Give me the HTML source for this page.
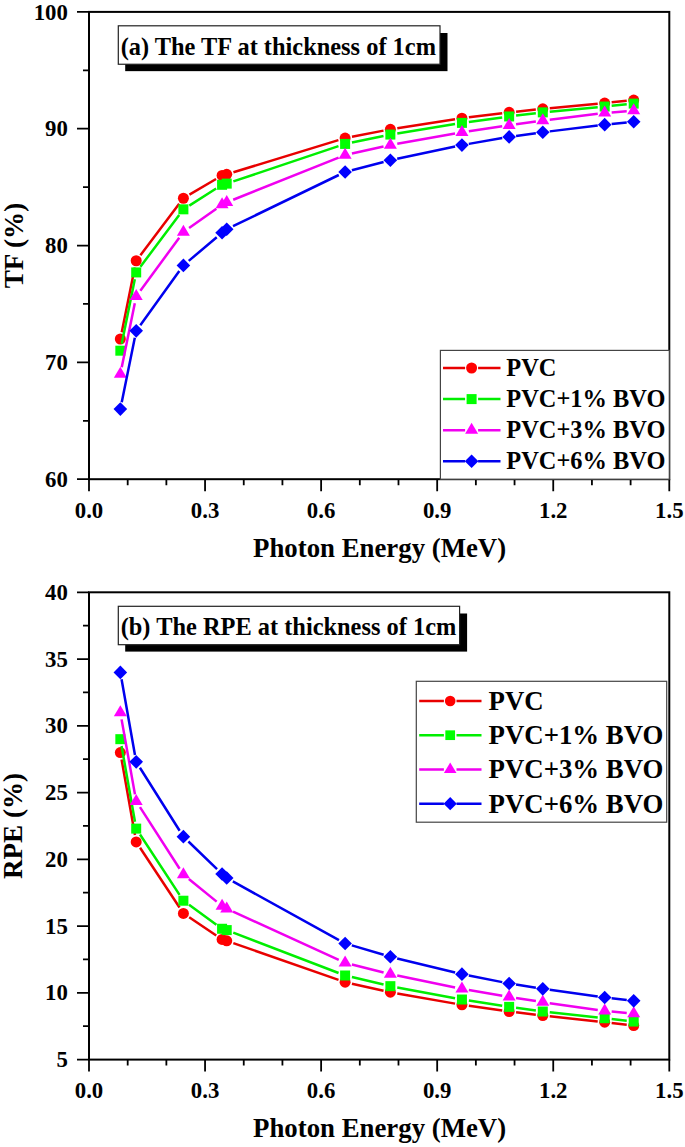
<!DOCTYPE html>
<html><head><meta charset="utf-8"><style>
html,body{margin:0;padding:0;background:#fff;}
svg{display:block;}
</style></head><body>
<svg width="685" height="1147" viewBox="0 0 685 1147">
<rect width="685" height="1147" fill="#fff"/>
<path d="M121.73,332.15L134.81,267.60M140.42,255.15L179.18,203.82M189.43,194.68L216.05,179.01M233.42,172.24L338.41,140.12M351.98,136.74L383.50,130.64M397.29,128.24L455.02,119.28M468.89,117.35L502.19,113.23M516.10,111.64L535.83,109.59M549.76,108.21L597.72,103.68M611.66,102.32L626.74,100.80" stroke="#e80000" stroke-width="2.5" fill="none"/>
<circle cx="120.34" cy="339.01" r="5.50" fill="#ff0000"/>
<circle cx="136.20" cy="260.74" r="5.50" fill="#ff0000"/>
<circle cx="183.40" cy="198.24" r="5.50" fill="#ff0000"/>
<circle cx="222.08" cy="175.45" r="5.50" fill="#ff0000"/>
<circle cx="226.72" cy="174.29" r="5.50" fill="#ff0000"/>
<circle cx="345.11" cy="138.07" r="5.50" fill="#ff0000"/>
<circle cx="390.37" cy="129.31" r="5.50" fill="#ff0000"/>
<circle cx="461.94" cy="118.21" r="5.50" fill="#ff0000"/>
<circle cx="509.14" cy="112.37" r="5.50" fill="#ff0000"/>
<circle cx="542.79" cy="108.86" r="5.50" fill="#ff0000"/>
<circle cx="604.69" cy="103.02" r="5.50" fill="#ff0000"/>
<circle cx="633.71" cy="100.10" r="5.50" fill="#ff0000"/>
<path d="M121.73,343.83L134.81,279.28M140.39,266.81L179.20,214.94M189.31,205.59L216.17,188.55M233.36,181.41L338.47,146.14M351.96,142.50L383.51,135.98M397.28,133.44L455.03,124.01M468.88,121.94L502.20,117.40M516.09,115.61L535.85,113.21M549.76,111.71L597.72,107.19M611.66,105.83L626.74,104.31" stroke="#00ee00" stroke-width="2.5" fill="none"/>
<rect x="115.34" y="345.69" width="10.00" height="10.00" fill="#00ff00"/>
<rect x="131.20" y="267.42" width="10.00" height="10.00" fill="#00ff00"/>
<rect x="178.40" y="204.33" width="10.00" height="10.00" fill="#00ff00"/>
<rect x="217.08" y="179.80" width="10.00" height="10.00" fill="#00ff00"/>
<rect x="221.72" y="178.63" width="10.00" height="10.00" fill="#00ff00"/>
<rect x="340.11" y="138.91" width="10.00" height="10.00" fill="#00ff00"/>
<rect x="385.37" y="129.57" width="10.00" height="10.00" fill="#00ff00"/>
<rect x="456.94" y="117.88" width="10.00" height="10.00" fill="#00ff00"/>
<rect x="504.14" y="111.46" width="10.00" height="10.00" fill="#00ff00"/>
<rect x="537.79" y="107.37" width="10.00" height="10.00" fill="#00ff00"/>
<rect x="599.69" y="101.53" width="10.00" height="10.00" fill="#00ff00"/>
<rect x="628.71" y="98.61" width="10.00" height="10.00" fill="#00ff00"/>
<path d="M121.74,367.20L134.80,303.23M140.34,290.73L179.25,237.76M189.10,228.06L216.37,208.71M233.22,199.73L338.61,157.61M351.94,153.51L383.53,146.58M397.26,143.84L455.05,133.47M468.86,131.20L502.21,126.25M516.07,124.26L535.86,121.51M549.74,119.69L597.75,113.81M611.67,112.39L626.73,111.18" stroke="#f000f0" stroke-width="2.5" fill="none"/>
<polygon points="120.34,366.72 126.84,377.72 113.84,377.72" fill="#ff00ff"/>
<polygon points="136.20,289.04 142.70,300.04 129.70,300.04" fill="#ff00ff"/>
<polygon points="183.40,224.78 189.90,235.78 176.90,235.78" fill="#ff00ff"/>
<polygon points="222.08,197.33 228.58,208.33 215.58,208.33" fill="#ff00ff"/>
<polygon points="226.72,194.99 233.22,205.99 220.22,205.99" fill="#ff00ff"/>
<polygon points="345.11,147.68 351.61,158.68 338.61,158.68" fill="#ff00ff"/>
<polygon points="390.37,137.75 396.87,148.75 383.87,148.75" fill="#ff00ff"/>
<polygon points="461.94,124.90 468.44,135.90 455.44,135.90" fill="#ff00ff"/>
<polygon points="509.14,117.89 515.64,128.89 502.64,128.89" fill="#ff00ff"/>
<polygon points="542.79,113.21 549.29,124.21 536.29,124.21" fill="#ff00ff"/>
<polygon points="604.69,105.62 611.19,116.62 598.19,116.62" fill="#ff00ff"/>
<polygon points="633.71,103.28 640.21,114.28 627.21,114.28" fill="#ff00ff"/>
<path d="M121.73,402.24L134.81,337.69M140.29,325.16L179.30,271.09M188.74,260.89L216.74,237.22M233.03,226.15L338.80,175.00M351.88,170.20L383.59,162.02M397.22,158.81L455.09,146.53M468.84,143.89L502.24,138.10M516.07,135.94L535.86,133.19M549.74,131.38L597.75,125.49M611.66,123.94L626.74,122.42" stroke="#0000ee" stroke-width="2.5" fill="none"/>
<polygon points="120.34,402.31 127.14,409.11 120.34,415.91 113.54,409.11" fill="#0000ff"/>
<polygon points="136.20,324.03 143.00,330.83 136.20,337.63 129.40,330.83" fill="#0000ff"/>
<polygon points="183.40,258.61 190.20,265.41 183.40,272.21 176.60,265.41" fill="#0000ff"/>
<polygon points="222.08,225.90 228.88,232.70 222.08,239.50 215.28,232.70" fill="#0000ff"/>
<polygon points="226.72,222.39 233.52,229.19 226.72,235.99 219.92,229.19" fill="#0000ff"/>
<polygon points="345.11,165.15 351.91,171.95 345.11,178.75 338.31,171.95" fill="#0000ff"/>
<polygon points="390.37,153.47 397.17,160.27 390.37,167.07 383.57,160.27" fill="#0000ff"/>
<polygon points="461.94,138.28 468.74,145.08 461.94,151.88 455.14,145.08" fill="#0000ff"/>
<polygon points="509.14,130.10 515.94,136.90 509.14,143.70 502.34,136.90" fill="#0000ff"/>
<polygon points="542.79,125.43 549.59,132.23 542.79,139.03 535.99,132.23" fill="#0000ff"/>
<polygon points="604.69,117.84 611.49,124.64 604.69,131.44 597.89,124.64" fill="#0000ff"/>
<polygon points="633.71,114.92 640.51,121.72 633.71,128.52 626.91,121.72" fill="#0000ff"/>
<rect x="89.0" y="11.9" width="580.30" height="467.30" fill="none" stroke="#000" stroke-width="2"/>
<text x="67.9" y="486.80" text-anchor="end" font-size="22.8" font-family="&quot;Liberation Serif&quot;, serif" font-weight="bold">60</text>
<text x="67.9" y="369.98" text-anchor="end" font-size="22.8" font-family="&quot;Liberation Serif&quot;, serif" font-weight="bold">70</text>
<text x="67.9" y="253.15" text-anchor="end" font-size="22.8" font-family="&quot;Liberation Serif&quot;, serif" font-weight="bold">80</text>
<text x="67.9" y="136.32" text-anchor="end" font-size="22.8" font-family="&quot;Liberation Serif&quot;, serif" font-weight="bold">90</text>
<text x="67.9" y="19.50" text-anchor="end" font-size="22.8" font-family="&quot;Liberation Serif&quot;, serif" font-weight="bold">100</text>
<text x="89.00" y="517.90" text-anchor="middle" font-size="22.8" font-family="&quot;Liberation Serif&quot;, serif" font-weight="bold">0.0</text>
<text x="205.06" y="517.90" text-anchor="middle" font-size="22.8" font-family="&quot;Liberation Serif&quot;, serif" font-weight="bold">0.3</text>
<text x="321.12" y="517.90" text-anchor="middle" font-size="22.8" font-family="&quot;Liberation Serif&quot;, serif" font-weight="bold">0.6</text>
<text x="437.18" y="517.90" text-anchor="middle" font-size="22.8" font-family="&quot;Liberation Serif&quot;, serif" font-weight="bold">0.9</text>
<text x="553.24" y="517.90" text-anchor="middle" font-size="22.8" font-family="&quot;Liberation Serif&quot;, serif" font-weight="bold">1.2</text>
<text x="669.30" y="517.90" text-anchor="middle" font-size="22.8" font-family="&quot;Liberation Serif&quot;, serif" font-weight="bold">1.5</text>
<path d="M77.00,479.20H89.0M83.00,420.79H89.0M77.00,362.38H89.0M83.00,303.96H89.0M77.00,245.55H89.0M83.00,187.14H89.0M77.00,128.72H89.0M83.00,70.31H89.0M77.00,11.90H89.0M89.00,479.2V491.20M127.69,479.2V485.20M166.37,479.2V485.20M205.06,479.2V491.20M243.75,479.2V485.20M282.43,479.2V485.20M321.12,479.2V491.20M359.81,479.2V485.20M398.49,479.2V485.20M437.18,479.2V491.20M475.87,479.2V485.20M514.55,479.2V485.20M553.24,479.2V491.20M591.93,479.2V485.20M630.61,479.2V485.20M669.30,479.2V491.20" stroke="#000" stroke-width="1.8" fill="none"/>
<text x="253.1" y="556.70" font-size="26.8" font-family="&quot;Liberation Serif&quot;, serif" font-weight="bold">Photon Energy (MeV)</text>
<text transform="translate(23.4,245.55) rotate(-90)" x="0" y="0" text-anchor="middle" font-size="27.1" font-family="&quot;Liberation Serif&quot;, serif" font-weight="bold">TF (%)</text>
<rect x="125.20" y="33.00" width="322.30" height="38.15" fill="#000"/>
<rect x="118.3" y="25.8" width="321.7" height="38.45" fill="#fff" stroke="#222" stroke-width="1.2"/>
<text x="120.70" y="54.70" font-size="24.4" font-family="&quot;Liberation Serif&quot;, serif" font-weight="bold">(a) The TF at thickness of 1cm</text>
<rect x="440.4" y="350.4" width="228.9" height="128.8" fill="#fff" stroke="#444" stroke-width="1.2"/>
<path d="M443.0,368.0H465.10M478.10,368.0H500.5" stroke="#e80000" stroke-width="2.5"/>
<circle cx="471.60" cy="368.00" r="5.50" fill="#ff0000"/>
<text x="506.3" y="375.90" font-size="24.4" font-family="&quot;Liberation Serif&quot;, serif" font-weight="bold">PVC</text>
<path d="M443.0,399.1H465.10M478.10,399.1H500.5" stroke="#00ee00" stroke-width="2.5"/>
<rect x="466.60" y="394.10" width="10.00" height="10.00" fill="#00ff00"/>
<text x="506.3" y="407.00" font-size="24.4" font-family="&quot;Liberation Serif&quot;, serif" font-weight="bold">PVC+1% BVO</text>
<path d="M443.0,430.2H465.10M478.10,430.2H500.5" stroke="#f000f0" stroke-width="2.5"/>
<polygon points="471.60,422.87 478.10,433.87 465.10,433.87" fill="#ff00ff"/>
<text x="506.3" y="438.10" font-size="24.4" font-family="&quot;Liberation Serif&quot;, serif" font-weight="bold">PVC+3% BVO</text>
<path d="M443.0,461.2H465.10M478.10,461.2H500.5" stroke="#0000ee" stroke-width="2.5"/>
<polygon points="471.60,454.40 478.40,461.20 471.60,468.00 464.80,461.20" fill="#0000ff"/>
<text x="506.3" y="469.10" font-size="24.4" font-family="&quot;Liberation Serif&quot;, serif" font-weight="bold">PVC+6% BVO</text>
<path d="M121.56,759.41L134.98,835.08M140.06,847.81L179.54,907.56M189.20,917.31L216.27,935.53M233.33,943.08L338.50,979.85M351.94,983.67L383.53,990.66M397.26,993.40L455.05,1003.64M468.87,1005.84L502.21,1010.55M516.09,1012.36L535.84,1014.71M549.75,1016.29L597.73,1021.47M611.65,1023.02L626.75,1024.75" stroke="#e80000" stroke-width="2.5" fill="none"/>
<circle cx="120.34" cy="752.52" r="5.50" fill="#ff0000"/>
<circle cx="136.20" cy="841.97" r="5.50" fill="#ff0000"/>
<circle cx="183.40" cy="913.40" r="5.50" fill="#ff0000"/>
<circle cx="222.08" cy="939.44" r="5.50" fill="#ff0000"/>
<circle cx="226.72" cy="940.77" r="5.50" fill="#ff0000"/>
<circle cx="345.11" cy="982.16" r="5.50" fill="#ff0000"/>
<circle cx="390.37" cy="992.18" r="5.50" fill="#ff0000"/>
<circle cx="461.94" cy="1004.86" r="5.50" fill="#ff0000"/>
<circle cx="509.14" cy="1011.53" r="5.50" fill="#ff0000"/>
<circle cx="542.79" cy="1015.54" r="5.50" fill="#ff0000"/>
<circle cx="604.69" cy="1022.22" r="5.50" fill="#ff0000"/>
<circle cx="633.71" cy="1025.55" r="5.50" fill="#ff0000"/>
<path d="M121.56,746.06L134.98,821.73M140.03,834.48L179.56,894.86M189.06,904.83L216.41,924.65M233.26,932.60L338.57,972.98M351.92,977.09L383.56,984.56M397.25,987.45L455.06,998.23M468.86,1000.59L502.22,1005.79M516.07,1007.82L535.86,1010.57M549.75,1012.29L597.73,1017.46M611.65,1019.01L626.75,1020.75" stroke="#00ee00" stroke-width="2.5" fill="none"/>
<rect x="115.34" y="734.17" width="10.00" height="10.00" fill="#00ff00"/>
<rect x="131.20" y="823.62" width="10.00" height="10.00" fill="#00ff00"/>
<rect x="178.40" y="895.72" width="10.00" height="10.00" fill="#00ff00"/>
<rect x="217.08" y="923.76" width="10.00" height="10.00" fill="#00ff00"/>
<rect x="221.72" y="925.09" width="10.00" height="10.00" fill="#00ff00"/>
<rect x="340.11" y="970.49" width="10.00" height="10.00" fill="#00ff00"/>
<rect x="385.37" y="981.17" width="10.00" height="10.00" fill="#00ff00"/>
<rect x="456.94" y="994.52" width="10.00" height="10.00" fill="#00ff00"/>
<rect x="504.14" y="1001.86" width="10.00" height="10.00" fill="#00ff00"/>
<rect x="537.79" y="1006.53" width="10.00" height="10.00" fill="#00ff00"/>
<rect x="599.69" y="1013.21" width="10.00" height="10.00" fill="#00ff00"/>
<rect x="628.71" y="1016.55" width="10.00" height="10.00" fill="#00ff00"/>
<path d="M121.57,719.35L134.97,794.36M139.98,807.14L179.61,868.79M188.83,879.09L216.65,901.65M233.09,911.64L338.74,959.89M351.90,964.50L383.58,972.45M397.23,975.56L455.08,987.43M468.84,990.01L502.24,995.68M516.05,997.95L535.88,1001.09M549.73,1003.16L597.76,1009.90M611.66,1011.51L626.74,1012.90" stroke="#f000f0" stroke-width="2.5" fill="none"/>
<polygon points="120.34,705.13 126.84,716.13 113.84,716.13" fill="#ff00ff"/>
<polygon points="136.20,793.92 142.70,804.92 129.70,804.92" fill="#ff00ff"/>
<polygon points="183.40,867.35 189.90,878.35 176.90,878.35" fill="#ff00ff"/>
<polygon points="222.08,898.73 228.58,909.73 215.58,909.73" fill="#ff00ff"/>
<polygon points="226.72,901.40 233.22,912.40 220.22,912.40" fill="#ff00ff"/>
<polygon points="345.11,955.47 351.61,966.47 338.61,966.47" fill="#ff00ff"/>
<polygon points="390.37,966.82 396.87,977.82 383.87,977.82" fill="#ff00ff"/>
<polygon points="461.94,981.50 468.44,992.50 455.44,992.50" fill="#ff00ff"/>
<polygon points="509.14,989.51 515.64,1000.51 502.64,1000.51" fill="#ff00ff"/>
<polygon points="542.79,994.86 549.29,1005.86 536.29,1005.86" fill="#ff00ff"/>
<polygon points="604.69,1003.53 611.19,1014.53 598.19,1014.53" fill="#ff00ff"/>
<polygon points="633.71,1006.20 640.21,1017.20 627.21,1017.20" fill="#ff00ff"/>
<path d="M121.56,679.30L134.98,754.97M139.93,767.78L179.66,830.71M188.43,841.50L217.05,869.15M232.85,881.41L338.98,940.06M351.82,945.42L383.66,954.81M397.17,958.44L455.14,972.50M468.81,975.51L502.27,982.14M516.05,984.59L535.88,987.74M549.73,989.81L597.76,996.54M611.65,998.32L626.75,1000.05" stroke="#0000ee" stroke-width="2.5" fill="none"/>
<polygon points="120.34,665.61 127.14,672.41 120.34,679.21 113.54,672.41" fill="#0000ff"/>
<polygon points="136.20,755.06 143.00,761.86 136.20,768.66 129.40,761.86" fill="#0000ff"/>
<polygon points="183.40,829.83 190.20,836.63 183.40,843.43 176.60,836.63" fill="#0000ff"/>
<polygon points="222.08,867.22 228.88,874.02 222.08,880.82 215.28,874.02" fill="#0000ff"/>
<polygon points="226.72,871.22 233.52,878.02 226.72,884.82 219.92,878.02" fill="#0000ff"/>
<polygon points="345.11,936.64 351.91,943.44 345.11,950.24 338.31,943.44" fill="#0000ff"/>
<polygon points="390.37,949.99 397.17,956.79 390.37,963.59 383.57,956.79" fill="#0000ff"/>
<polygon points="461.94,967.35 468.74,974.15 461.94,980.95 455.14,974.15" fill="#0000ff"/>
<polygon points="509.14,976.70 515.94,983.50 509.14,990.30 502.34,983.50" fill="#0000ff"/>
<polygon points="542.79,982.04 549.59,988.84 542.79,995.64 535.99,988.84" fill="#0000ff"/>
<polygon points="604.69,990.72 611.49,997.52 604.69,1004.32 597.89,997.52" fill="#0000ff"/>
<polygon points="633.71,994.05 640.51,1000.85 633.71,1007.65 626.91,1000.85" fill="#0000ff"/>
<rect x="89.0" y="592.3" width="580.30" height="467.30" fill="none" stroke="#000" stroke-width="2"/>
<text x="67.9" y="1067.20" text-anchor="end" font-size="22.8" font-family="&quot;Liberation Serif&quot;, serif" font-weight="bold">5</text>
<text x="67.9" y="1000.44" text-anchor="end" font-size="22.8" font-family="&quot;Liberation Serif&quot;, serif" font-weight="bold">10</text>
<text x="67.9" y="933.69" text-anchor="end" font-size="22.8" font-family="&quot;Liberation Serif&quot;, serif" font-weight="bold">15</text>
<text x="67.9" y="866.93" text-anchor="end" font-size="22.8" font-family="&quot;Liberation Serif&quot;, serif" font-weight="bold">20</text>
<text x="67.9" y="800.17" text-anchor="end" font-size="22.8" font-family="&quot;Liberation Serif&quot;, serif" font-weight="bold">25</text>
<text x="67.9" y="733.41" text-anchor="end" font-size="22.8" font-family="&quot;Liberation Serif&quot;, serif" font-weight="bold">30</text>
<text x="67.9" y="666.66" text-anchor="end" font-size="22.8" font-family="&quot;Liberation Serif&quot;, serif" font-weight="bold">35</text>
<text x="67.9" y="599.90" text-anchor="end" font-size="22.8" font-family="&quot;Liberation Serif&quot;, serif" font-weight="bold">40</text>
<text x="89.00" y="1098.30" text-anchor="middle" font-size="22.8" font-family="&quot;Liberation Serif&quot;, serif" font-weight="bold">0.0</text>
<text x="205.06" y="1098.30" text-anchor="middle" font-size="22.8" font-family="&quot;Liberation Serif&quot;, serif" font-weight="bold">0.3</text>
<text x="321.12" y="1098.30" text-anchor="middle" font-size="22.8" font-family="&quot;Liberation Serif&quot;, serif" font-weight="bold">0.6</text>
<text x="437.18" y="1098.30" text-anchor="middle" font-size="22.8" font-family="&quot;Liberation Serif&quot;, serif" font-weight="bold">0.9</text>
<text x="553.24" y="1098.30" text-anchor="middle" font-size="22.8" font-family="&quot;Liberation Serif&quot;, serif" font-weight="bold">1.2</text>
<text x="669.30" y="1098.30" text-anchor="middle" font-size="22.8" font-family="&quot;Liberation Serif&quot;, serif" font-weight="bold">1.5</text>
<path d="M77.00,1059.60H89.0M83.00,1026.22H89.0M77.00,992.84H89.0M83.00,959.46H89.0M77.00,926.09H89.0M83.00,892.71H89.0M77.00,859.33H89.0M83.00,825.95H89.0M77.00,792.57H89.0M83.00,759.19H89.0M77.00,725.81H89.0M83.00,692.44H89.0M77.00,659.06H89.0M83.00,625.68H89.0M77.00,592.30H89.0M89.00,1059.6V1071.60M127.69,1059.6V1065.60M166.37,1059.6V1065.60M205.06,1059.6V1071.60M243.75,1059.6V1065.60M282.43,1059.6V1065.60M321.12,1059.6V1071.60M359.81,1059.6V1065.60M398.49,1059.6V1065.60M437.18,1059.6V1071.60M475.87,1059.6V1065.60M514.55,1059.6V1065.60M553.24,1059.6V1071.60M591.93,1059.6V1065.60M630.61,1059.6V1065.60M669.30,1059.6V1071.60" stroke="#000" stroke-width="1.8" fill="none"/>
<text x="253.1" y="1137.10" font-size="26.8" font-family="&quot;Liberation Serif&quot;, serif" font-weight="bold">Photon Energy (MeV)</text>
<text transform="translate(22.3,825.95) rotate(-90)" x="0" y="0" text-anchor="middle" font-size="27.1" font-family="&quot;Liberation Serif&quot;, serif" font-weight="bold">RPE (%)</text>
<rect x="125.20" y="613.50" width="341.90" height="38.10" fill="#000"/>
<rect x="118.3" y="606.3" width="341.3" height="38.4" fill="#fff" stroke="#222" stroke-width="1.2"/>
<text x="120.70" y="635.20" font-size="24.4" font-family="&quot;Liberation Serif&quot;, serif" font-weight="bold">(b) The RPE at thickness of 1cm</text>
<rect x="416.3" y="681.3" width="250.4" height="140.9" fill="#fff" stroke="#444" stroke-width="1.2"/>
<path d="M419.2,701.0H443.89M456.50,701.0H481.5" stroke="#e80000" stroke-width="2.5"/>
<circle cx="450.20" cy="701.00" r="5.33" fill="#ff0000"/>
<text x="488.6" y="709.90" font-size="26.8" font-family="&quot;Liberation Serif&quot;, serif" font-weight="bold">PVC</text>
<path d="M419.2,735.2H443.89M456.50,735.2H481.5" stroke="#00ee00" stroke-width="2.5"/>
<rect x="445.35" y="730.35" width="9.70" height="9.70" fill="#00ff00"/>
<text x="488.6" y="744.10" font-size="26.8" font-family="&quot;Liberation Serif&quot;, serif" font-weight="bold">PVC+1% BVO</text>
<path d="M419.2,769.5H443.89M456.50,769.5H481.5" stroke="#f000f0" stroke-width="2.5"/>
<polygon points="450.20,762.39 456.50,773.06 443.89,773.06" fill="#ff00ff"/>
<text x="488.6" y="778.40" font-size="26.8" font-family="&quot;Liberation Serif&quot;, serif" font-weight="bold">PVC+3% BVO</text>
<path d="M419.2,803.7H443.89M456.50,803.7H481.5" stroke="#0000ee" stroke-width="2.5"/>
<polygon points="450.20,797.10 456.80,803.70 450.20,810.30 443.60,803.70" fill="#0000ff"/>
<text x="488.6" y="812.60" font-size="26.8" font-family="&quot;Liberation Serif&quot;, serif" font-weight="bold">PVC+6% BVO</text>
</svg>
</body></html>
